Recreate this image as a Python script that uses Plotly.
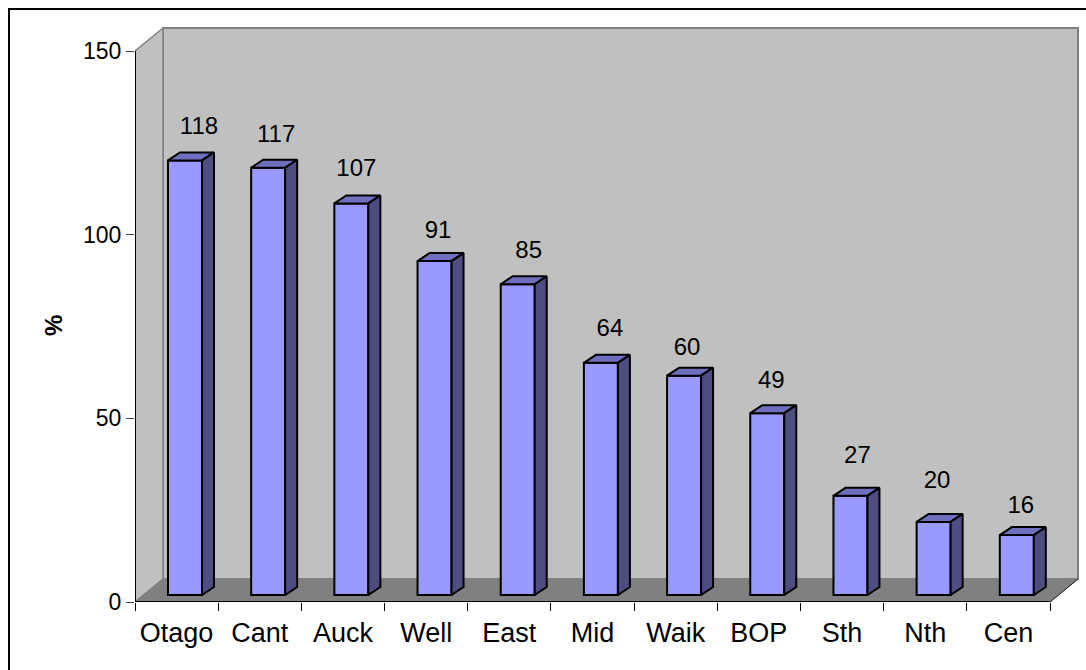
import plotly.graph_objects as go

categories = ["Otago", "Cant", "Auck", "Well", "East", "Mid", "Waik", "BOP", "Sth", "Nth", "Cen"]
value_labels = [118, 117, 107, 91, 85, 64, 60, 49, 27, 20, 16]
# Bar heights (they differ slightly from the printed labels)
bar_heights = [118.3, 116.3, 106.6, 90.9, 84.6, 63.2, 59.7, 49.5, 27.0, 19.9, 16.3]
y_ticks = [0, 50, 100, 150]

# Label nudges from the bar's front top edge, in pixels (hand-placed labels in the original)
label_dx = [14, 8, 5, 3.5, 11, 9, 3, 4, 7, 3.4, 4]
label_dy = [32, 32.2, 33.5, 28.8, 32.5, 32.9, 26.5, 31.5, 39.2, 39.5, 28.5]

W, H = 1086, 670
LEFT, RIGHT, TOP, BOTTOM = 135, 1082, 25, 602
PX_CAT = (1050 - 135) / 11
PX_VAL = 551 / 150
WALL_DX = 28 / PX_CAT
WALL_DY = 23 / PX_VAL
BAR_SHIFT = 8.4 / PX_CAT
BAR_W = 34 / PX_CAT
BAR_BASE = 7 / PX_VAL
BAR_DX = 12 / PX_CAT
BAR_DY = 8 / PX_VAL
x0 = -0.5
x1 = x0 + len(categories)
ymax = y_ticks[-1]
xr = [x0, x0 + (RIGHT - LEFT) / PX_CAT]
yr = [0, (BOTTOM - TOP) / PX_VAL]


def poly(xs, ys):
    return "M " + " L ".join(f"{a},{b}" for a, b in zip(xs, ys)) + " Z"


GRAY = "#808080"
WALL = "#C0C0C0"
shapes = [
    dict(type="path", layer="below", xref="x", yref="y", fillcolor=WALL, line=dict(color=GRAY, width=2),
         path=poly([x0 + WALL_DX, x1 + WALL_DX, x1 + WALL_DX, x0 + WALL_DX], [WALL_DY, WALL_DY, ymax + WALL_DY, ymax + WALL_DY])),
    dict(type="path", layer="below", xref="x", yref="y", fillcolor=WALL, line=dict(color=GRAY, width=1.5),
         path=poly([x0, x0 + WALL_DX, x0 + WALL_DX, x0], [0, WALL_DY, ymax + WALL_DY, ymax])),
    dict(type="path", layer="below", xref="x", yref="y", fillcolor=GRAY, line=dict(color=GRAY, width=1),
         path=poly([x0, x0 + WALL_DX, x1 + WALL_DX, x1], [0, WALL_DY, WALL_DY, 0])),
    dict(type="line", layer="below", xref="x", yref="y", x0=x1, y0=0, x1=x1 + WALL_DX, y1=WALL_DY,
         line=dict(color="#202020", width=1)),
    # outer chart border: only its top and left edges fall inside the picture
    dict(type="rect", layer="below", xref="paper", yref="paper",
         x0=(9 - LEFT) / (RIGHT - LEFT), x1=1.2, y0=-0.3, y1=(BOTTOM - 9) / (BOTTOM - TOP),
         line=dict(color="black", width=2), fillcolor="rgba(0,0,0,0)"),
]

fig = go.Figure()

centers = [i + BAR_SHIFT for i in range(len(categories))]
fig.add_trace(go.Bar(
    x=centers, y=bar_heights, base=[BAR_BASE] * len(bar_heights), width=BAR_W,
    marker=dict(color="#9999FF", line=dict(color="black", width=2)),
    hoverinfo="skip", showlegend=False,
))

top_x, top_y, side_x, side_y = [], [], [], []
for c, v in zip(centers, bar_heights):
    l, r = c - BAR_W / 2, c + BAR_W / 2
    t, b = BAR_BASE + v, BAR_BASE
    top_x += [l, l + BAR_DX, r + BAR_DX, r, l, None]
    top_y += [t, t + BAR_DY, t + BAR_DY, t, t, None]
    side_x += [r, r + BAR_DX, r + BAR_DX, r, r, None]
    side_y += [t, t + BAR_DY, b + BAR_DY, b, t, None]

fig.add_trace(go.Scatter(x=top_x, y=top_y, mode="lines", fill="toself", fillcolor="#6F6FBF",
                         line=dict(color="black", width=2), hoverinfo="skip", showlegend=False))
fig.add_trace(go.Scatter(x=side_x, y=side_y, mode="lines", fill="toself", fillcolor="#4D4D80",
                         line=dict(color="black", width=2), hoverinfo="skip", showlegend=False))

# Axis lines stop at the front plane rather than spanning the wall depth
fig.add_trace(go.Scatter(x=[x0, x0, x1], y=[ymax, 0, 0], mode="lines", line=dict(color="black", width=2),
                         hoverinfo="skip", showlegend=False, cliponaxis=False))

fig.add_trace(go.Scatter(
    x=[c + dx / PX_CAT for c, dx in zip(centers, label_dx)],
    y=[BAR_BASE + v + dy / PX_VAL for v, dy in zip(bar_heights, label_dy)],
    mode="text", text=[str(v) for v in value_labels], textposition="middle center",
    textfont=dict(family="Liberation Sans", size=24, color="black"),
    hoverinfo="skip", showlegend=False, cliponaxis=False,
))

fig.update_layout(
    width=W, height=H,
    margin=dict(l=LEFT, r=W - RIGHT, t=TOP, b=H - BOTTOM, pad=0, autoexpand=False),
    paper_bgcolor="white", plot_bgcolor="white",
    showlegend=False, shapes=shapes,
    font=dict(family="Liberation Sans", color="black"),
    annotations=[dict(text="<b>%</b>", textangle=-90, xref="paper", yref="y",
                      x=(53 - LEFT) / (RIGHT - LEFT), y=(BOTTOM - 326) / PX_VAL,
                      xanchor="center", yanchor="middle",
                      showarrow=False, font=dict(family="Liberation Sans", size=24, color="black"))],
    xaxis=dict(
        range=xr, tickmode="array", tickvals=list(range(len(categories))), ticktext=categories,
        ticks="outside", ticklen=7, tickcolor="rgba(0,0,0,0)", tickfont=dict(size=27, color="black"),
        showgrid=False, zeroline=False, showline=False, fixedrange=True,
        minor=dict(ticks="outside", ticklen=8, tickwidth=1, tickcolor="black", showgrid=False,
                   tickmode="array", tickvals=[x0 + i for i in range(len(categories) + 1)]),
    ),
    yaxis=dict(
        range=yr, tickmode="array", tickvals=y_ticks, ticks="outside", ticklen=8, tickwidth=1, tickcolor="#444444",
        tickfont=dict(size=23, color="black"), showgrid=False, zeroline=False, showline=False, fixedrange=True,
    ),
)

fig.write_html("out.html", config={"displayModeBar": False},
               post_script="document.body.style.margin='0';document.body.style.overflow='hidden';")
